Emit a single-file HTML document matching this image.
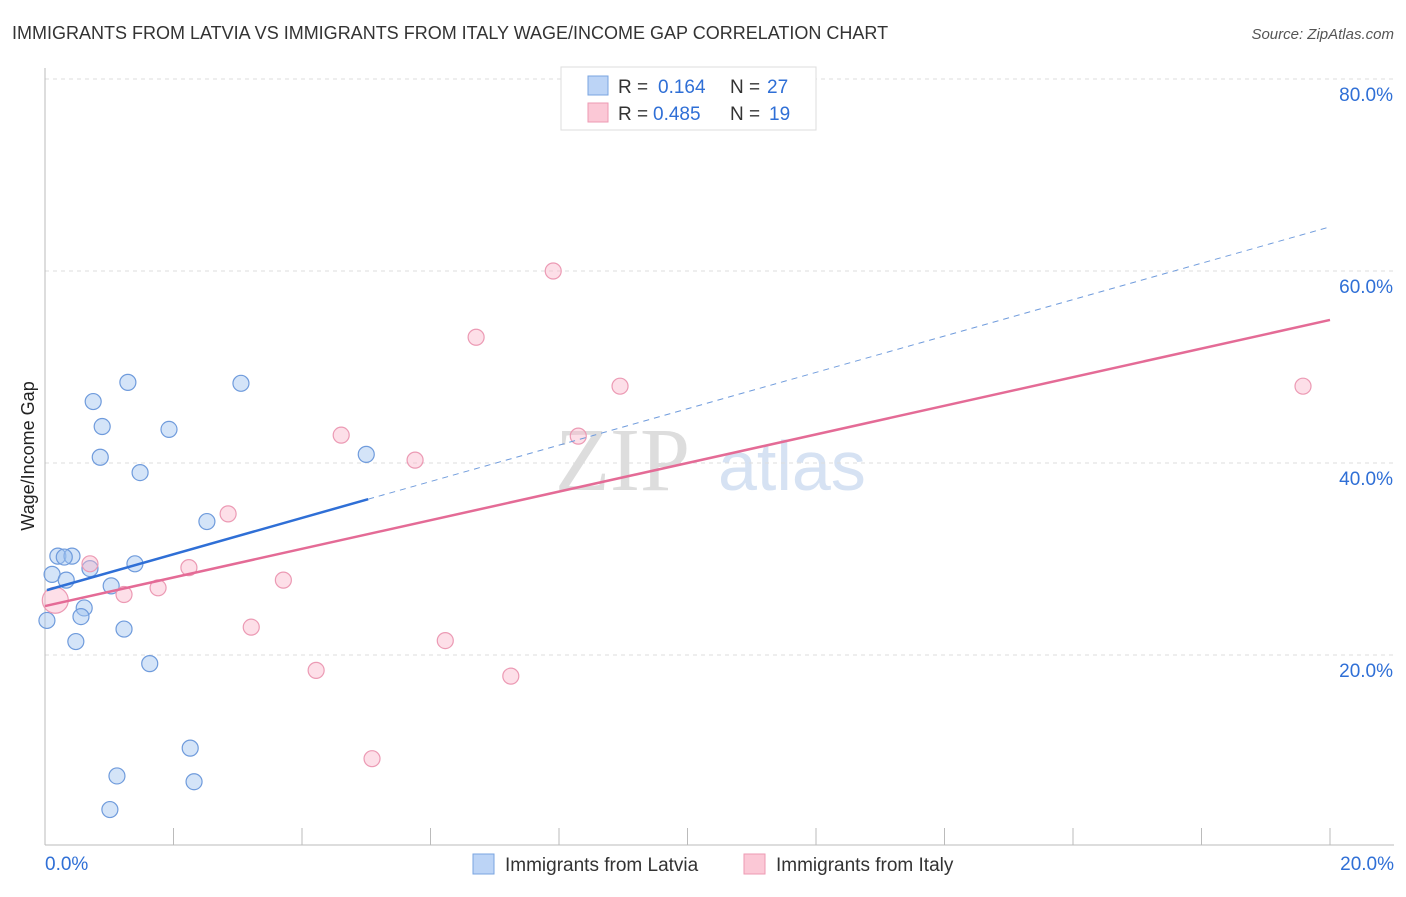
<!DOCTYPE html>
<html><head><meta charset="utf-8"><style>
body{margin:0;background:#fff;font-family:"Liberation Sans",sans-serif;}
</style></head><body>
<svg width="1406" height="892" xmlns="http://www.w3.org/2000/svg" font-family="Liberation Sans, sans-serif">
<text x="12" y="39" font-size="18" fill="#333">IMMIGRANTS FROM LATVIA VS IMMIGRANTS FROM ITALY WAGE/INCOME GAP CORRELATION CHART</text>
<text x="1394" y="39" font-size="15" fill="#555" font-style="italic" text-anchor="end">Source: ZipAtlas.com</text>
<g>
<text x="555" y="490" font-size="90" fill="#ddd" font-family="Liberation Serif, serif">ZIP</text>
<text x="718" y="490" font-size="70" fill="#d6e2f3">atlas</text>
</g>
<g id="grid"></g>
<g id="axes"></g>
<g id="marks"></g>
<g>
<rect x="561" y="67" width="255" height="63" fill="#fff" stroke="#ddd"/>
<rect x="588" y="76" width="20" height="19" fill="#bcd4f6" stroke="#7aa4e0"/>
<rect x="588" y="103" width="20" height="19" fill="#fbc8d6" stroke="#ee9ab3"/>
<text x="618" y="93" font-size="19" fill="#333">R = </text><text x="658" y="93" font-size="19" fill="#2f6fd6">0.164</text>
<text x="730" y="93" font-size="19" fill="#333">N = </text><text x="767" y="93" font-size="19" fill="#2f6fd6">27</text>
<text x="618" y="120" font-size="19" fill="#333">R = </text><text x="653" y="120" font-size="19" fill="#2f6fd6">0.485</text>
<text x="730" y="120" font-size="19" fill="#333">N = </text><text x="769" y="120" font-size="19" fill="#2f6fd6">19</text>
</g>
<g>
<rect x="473" y="854" width="21" height="20" fill="#bcd4f6" stroke="#7aa4e0"/>
<text x="505" y="871" font-size="19" fill="#333">Immigrants from Latvia</text>
<rect x="744" y="854" width="21" height="20" fill="#fbc8d6" stroke="#ee9ab3"/>
<text x="776" y="871" font-size="19" fill="#333">Immigrants from Italy</text>
</g>
<text transform="translate(34,456) rotate(-90)" font-size="18" fill="#222" text-anchor="middle">Wage/Income Gap</text>
</svg>
<script>
const latviaX=[0.03,0.11,0.20,0.42,0.33,0.70,0.75,0.89,0.86,1.29,1.48,1.93,3.05,5.00,2.52,1.40,1.03,0.61,0.56,0.48,1.23,1.63,2.26,1.12,2.32,1.01,0.30];
const latviaY=[23.6,28.4,30.3,30.3,27.8,29.0,46.4,43.8,40.6,48.4,39.0,43.5,48.3,40.9,33.9,29.5,27.2,24.9,24.0,21.4,22.7,19.1,10.3,7.4,6.8,3.9,30.2];
const italyX=[0.16,0.70,1.23,1.76,2.24,2.85,3.21,3.71,4.22,4.61,5.09,5.76,6.23,6.71,7.25,7.91,8.30,8.95,19.58];
const italyY=[25.7,29.5,26.3,27.0,29.1,34.7,22.9,27.8,18.4,42.9,9.2,40.3,21.5,53.1,17.8,60.0,42.8,48.0,48.0];
const latviaTrend=[26.7,64.6];
const italyTrend=[25.1,54.9];
const yTicks=[20,40,60,80];
const yTickLabels=["20.0%","40.0%","60.0%","80.0%"];
const xTickLabels=["0.0%","20.0%"];
const NS="http://www.w3.org/2000/svg";
const X=v=>45+v*64.25, Y=v=>847-v*9.6;
function mk(t,a,p){const e=document.createElementNS(NS,t);for(const k in a)e.setAttribute(k,a[k]);p.appendChild(e);return e;}
const grid=document.getElementById('grid'),axes=document.getElementById('axes'),marks=document.getElementById('marks');
yTicks.forEach((v,i)=>{
const l=mk('line',{x1:45,x2:1394,y1:Y(v),y2:Y(v),stroke:'#ddd','stroke-dasharray':'4,4'},grid);


const t=mk('text',{x:1393,y:Y(v)+22,'font-size':19,fill:'#2f6fd6','text-anchor':'end'},axes);t.textContent=yTickLabels[i];


});
const ax=mk('line',{x1:45,x2:1394,y1:845,y2:845,stroke:'#bbb'},axes);


const ay=mk('line',{x1:45,x2:45,y1:68,y2:845,stroke:'#bbb'},axes);


for(let i=0;i<=10;i++){const tk=mk('line',{x1:X(i*2),x2:X(i*2),y1:828,y2:845,stroke:'#bbb'},axes);

}
[[0,'start',45],[20,'end',1394]].forEach((d,i)=>{const t=mk('text',{x:d[2],y:870,'font-size':19,fill:'#2f6fd6','text-anchor':d[1]},axes);t.textContent=xTickLabels[i];

});
latviaX.forEach((x,i)=>{const c=mk('circle',{cx:X(x),cy:Y(latviaY[i]),r:8,fill:'rgba(160,195,240,0.45)',stroke:'#6f9bdc','stroke-width':1.2},marks);

});
italyX.forEach((x,i)=>{const c=mk('circle',{cx:X(x),cy:Y(italyY[i]),r:i==0?13:8,fill:'rgba(250,185,205,0.45)',stroke:'#ec9ab4','stroke-width':1.2},marks);

});
const lt=v=>latviaTrend[0]+(latviaTrend[1]-latviaTrend[0])*v/20;
const it=v=>italyTrend[0]+(italyTrend[1]-italyTrend[0])*v/20;
const l1=mk('line',{x1:X(0.03),y1:Y(lt(0.03)),x2:X(5.03),y2:Y(lt(5.03)),stroke:'#2f6fd6','stroke-width':2.5},marks);


const l2=mk('line',{x1:X(5.03),y1:Y(lt(5.03)),x2:X(20),y2:Y(lt(20)),stroke:'#6f9bdc','stroke-width':1,'stroke-dasharray':'6,5'},marks);


const l3=mk('line',{x1:X(0),y1:Y(it(0)),x2:X(20),y2:Y(it(20)),stroke:'#e46b96','stroke-width':2.5},marks);


</script>
</body></html>
